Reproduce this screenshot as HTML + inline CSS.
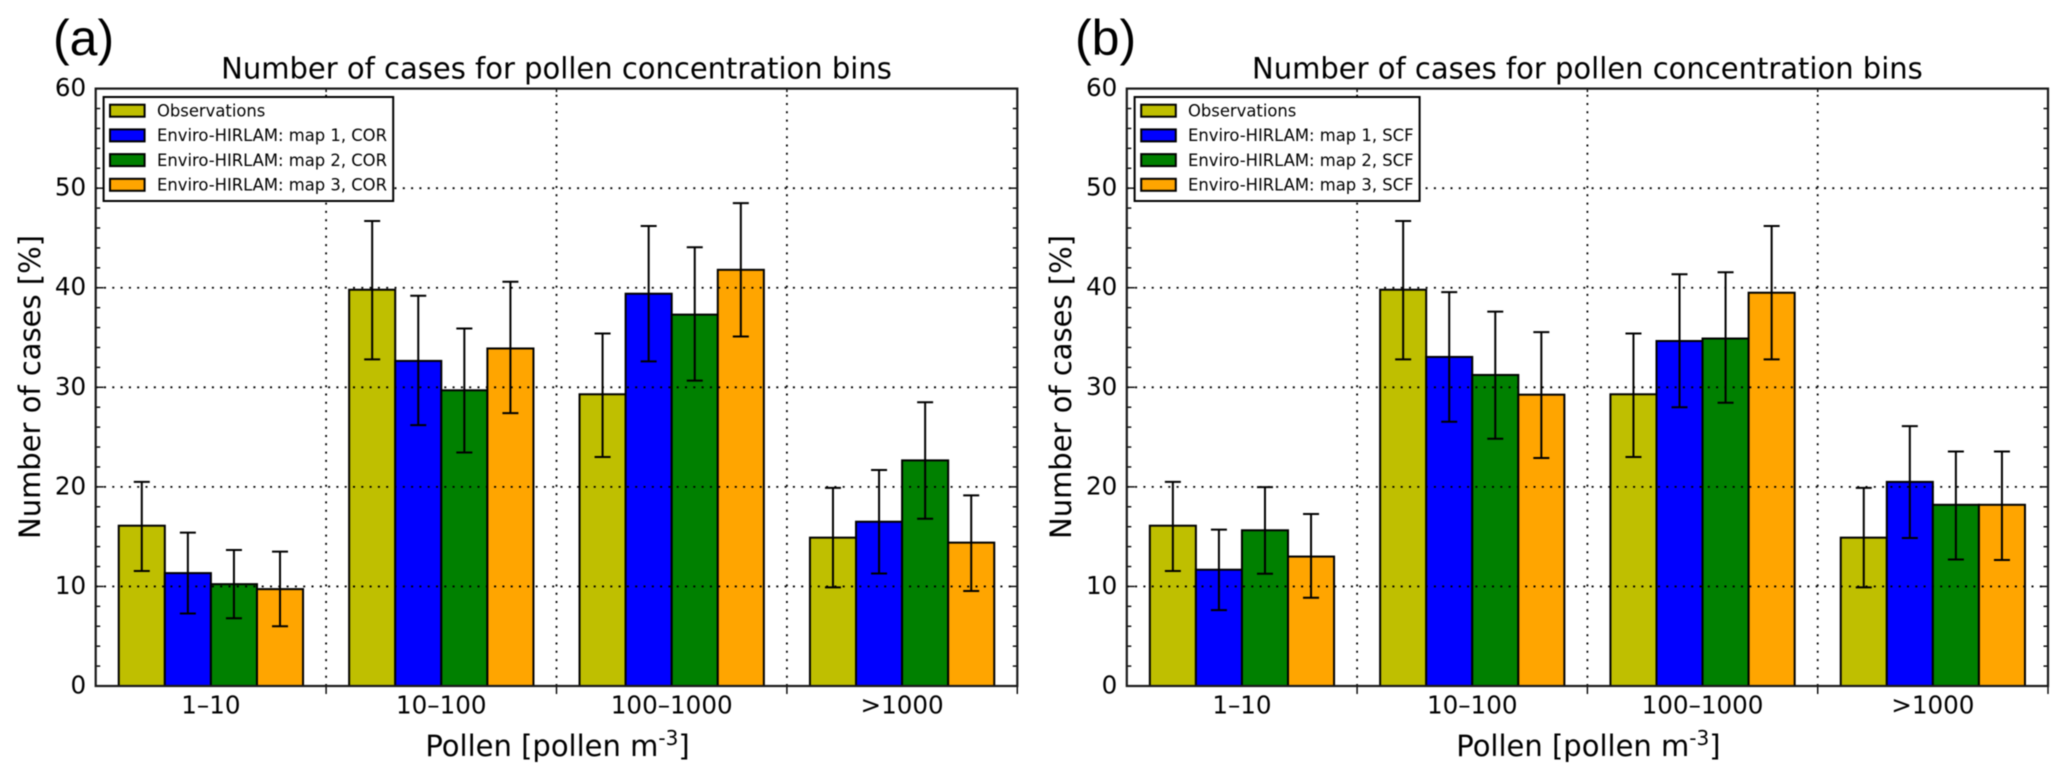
<!DOCTYPE html>
<html lang="en">
<head>
<meta charset="utf-8">
<title>Number of cases for pollen concentration bins</title>
<style>
  html, body { margin: 0; padding: 0; background: #fff; }
  svg { display: block; filter: blur(0.4px); }
  text { font-family: "DejaVu Sans", "Liberation Sans", sans-serif; fill: #000; }
  .panel-tag { font-family: "Liberation Sans", sans-serif; font-size: 50px; }
  .title, .axis-title { font-size: 29px; }
  .tick { font-size: 24.6px; }
  .legend-text { font-size: 16.4px; }
</style>
</head>
<body>
<svg id="figure" xmlns="http://www.w3.org/2000/svg" width="2067" height="780" viewBox="0 0 2067 780">
  <rect x="0" y="0" width="2067" height="780" fill="#fff"/>

  <g id="panel-a">
    <text class="panel-tag" x="53" y="55">(a)</text>
    <text class="title" x="556.5" y="78.5" text-anchor="middle">Number of cases for pollen concentration bins</text>
    <text class="axis-title" x="557.5" y="756" text-anchor="middle">Pollen [pollen m<tspan font-size="20px" dy="-11">-3</tspan><tspan dy="11">]</tspan></text>
    <text class="axis-title" transform="translate(40 387) rotate(-90)" text-anchor="middle" textLength="304">Number of cases [%]</text>
    <g id="a-plot"></g>
    <g>
      <rect x="103.6" y="97" width="289.6" height="104" fill="#fff" stroke="#000" stroke-width="2"/>
      <g>
        <rect x="110" y="104.7" width="34.6" height="12" fill="#bfbf00" stroke="#000" stroke-width="2"/>
        <text class="legend-text" x="157" y="116.5">Observations</text>
      </g>
      <g>
        <rect x="110" y="129.4" width="34.6" height="12" fill="#0000ff" stroke="#000" stroke-width="2"/>
        <text class="legend-text" x="157" y="141.2">Enviro-HIRLAM: map 1, COR</text>
      </g>
      <g>
        <rect x="110" y="154.1" width="34.6" height="12" fill="#008000" stroke="#000" stroke-width="2"/>
        <text class="legend-text" x="157" y="165.9">Enviro-HIRLAM: map 2, COR</text>
      </g>
      <g>
        <rect x="110" y="178.8" width="34.6" height="12" fill="#ffa500" stroke="#000" stroke-width="2"/>
        <text class="legend-text" x="157" y="190.6">Enviro-HIRLAM: map 3, COR</text>
      </g>
    </g>
  </g>

  <g id="panel-b">
    <text class="panel-tag" x="1075" y="55">(b)</text>
    <text class="title" x="1587.4" y="78.5" text-anchor="middle">Number of cases for pollen concentration bins</text>
    <text class="axis-title" x="1588.4" y="756" text-anchor="middle">Pollen [pollen m<tspan font-size="20px" dy="-11">-3</tspan><tspan dy="11">]</tspan></text>
    <text class="axis-title" transform="translate(1071 387) rotate(-90)" text-anchor="middle" textLength="304">Number of cases [%]</text>
    <g id="b-plot"></g>
    <g>
      <rect x="1134.6" y="97" width="285" height="104" fill="#fff" stroke="#000" stroke-width="2"/>
      <g>
        <rect x="1141.2" y="104.7" width="34.6" height="12" fill="#bfbf00" stroke="#000" stroke-width="2"/>
        <text class="legend-text" x="1188" y="116.5">Observations</text>
      </g>
      <g>
        <rect x="1141.2" y="129.4" width="34.6" height="12" fill="#0000ff" stroke="#000" stroke-width="2"/>
        <text class="legend-text" x="1188" y="141.2">Enviro-HIRLAM: map 1, SCF</text>
      </g>
      <g>
        <rect x="1141.2" y="154.1" width="34.6" height="12" fill="#008000" stroke="#000" stroke-width="2"/>
        <text class="legend-text" x="1188" y="165.9">Enviro-HIRLAM: map 2, SCF</text>
      </g>
      <g>
        <rect x="1141.2" y="178.8" width="34.6" height="12" fill="#ffa500" stroke="#000" stroke-width="2"/>
        <text class="legend-text" x="1188" y="190.6">Enviro-HIRLAM: map 3, SCF</text>
      </g>
    </g>
  </g>
</svg>

<script>
const categories = ['1–10', '10–100', '100–1000', '>1000'];
const yTickLabels = [0, 10, 20, 30, 40, 50, 60];
const yMinorTicks = [2, 4, 6, 8, 12, 14, 16, 18, 22, 24, 26, 28, 32, 34, 36, 38, 42, 44, 46, 48, 52, 54, 56, 58];
const seriesKeys = ['observations', 'map-1', 'map-2', 'map-3'];
const seriesColors = ['#bfbf00', '#0000ff', '#008000', '#ffa500'];

const observations = [16.1, 39.8, 29.3, 14.9];
const observationsLow = [11.55, 32.8, 23.0, 9.9];
const observationsHigh = [20.5, 46.7, 35.4, 19.9];

const corMap1 = [11.34, 32.65, 39.4, 16.5];
const corMap1Low = [7.28, 26.2, 32.6, 11.3];
const corMap1High = [15.4, 39.2, 46.2, 21.7];
const corMap2 = [10.23, 29.7, 37.3, 22.66];
const corMap2Low = [6.8, 23.45, 30.67, 16.8];
const corMap2High = [13.66, 35.9, 44.06, 28.5];
const corMap3 = [9.73, 33.9, 41.8, 14.4];
const corMap3Low = [6.0, 27.4, 35.1, 9.54];
const corMap3High = [13.5, 40.6, 48.5, 19.15];

const scfMap1 = [11.68, 33.05, 34.65, 20.5];
const scfMap1Low = [7.62, 26.54, 28.0, 14.86];
const scfMap1High = [15.7, 39.56, 41.35, 26.1];
const scfMap2 = [15.64, 31.24, 34.9, 18.2];
const scfMap2Low = [11.28, 24.83, 28.45, 12.7];
const scfMap2High = [19.97, 37.6, 41.55, 23.55];
const scfMap3 = [13.0, 29.26, 39.5, 18.2];
const scfMap3Low = [8.86, 22.9, 32.8, 12.65];
const scfMap3High = [17.28, 35.54, 46.2, 23.55];

const SVG_NS = 'http://www.w3.org/2000/svg';
const X_MAX = 4;
const Y_MAX = 60;
const BAR_WIDTH = 0.2;
const GROUP_PAD = 0.1;

function node(tag, attrs, parent) {
  const e = document.createElementNS(SVG_NS, tag);
  for (const k in attrs) e.setAttribute(k, attrs[k]);
  parent.appendChild(e);
  return e;
}

function drawPanel(prefix, box, values, lows, highs) {
  const root = document.getElementById(prefix + '-plot');
  const xAxis = function (v) { return box.left + (v / X_MAX) * (box.right - box.left); };
  const yAxis = function (v) { return box.bottom - (v / Y_MAX) * (box.bottom - box.top); };

  const background = node('rect', { x: box.left, y: box.top, width: box.right - box.left, height: box.bottom - box.top, fill: '#fff' }, root);
  
  

  // bars
  values.forEach(function (series, s) {
    series.forEach(function (value, g) {
      const left = xAxis(g + GROUP_PAD + s * BAR_WIDTH);
      const right = xAxis(g + GROUP_PAD + (s + 1) * BAR_WIDTH);
      const bar = node('rect', {
        x: left, y: yAxis(value), width: right - left, height: yAxis(0) - yAxis(value),
        fill: seriesColors[s], stroke: '#000', 'stroke-width': 2
      }, root);
      
      
    });
  });

  // grid
  yTickLabels.slice(1, -1).forEach(function (t) {
    const line = node('line', {
      x1: box.left, x2: box.right, y1: yAxis(t), y2: yAxis(t),
      stroke: '#000', 'stroke-width': 1.8, 'stroke-dasharray': '2 6.3'
    }, root);
    
    
  });
  [1, 2, 3].forEach(function (t) {
    const line = node('line', {
      x1: xAxis(t), x2: xAxis(t), y1: yAxis(0), y2: yAxis(Y_MAX),
      stroke: '#000', 'stroke-width': 1.8, 'stroke-dasharray': '2 6.3'
    }, root);
    
    
  });

  // error bars
  values.forEach(function (series, s) {
    series.forEach(function (value, g) {
      const cx = xAxis(g + GROUP_PAD + (s + 0.5) * BAR_WIDTH);
      const group = node('g', { stroke: '#000', 'stroke-width': 2 }, root);
      
      
      const yLow = yAxis(lows[s][g]);
      const yHigh = yAxis(highs[s][g]);
      node('line', { x1: cx, x2: cx, y1: yLow, y2: yHigh }, group);
      node('line', { x1: cx - 8, x2: cx + 8, y1: yLow, y2: yLow }, group);
      node('line', { x1: cx - 8, x2: cx + 8, y1: yHigh, y2: yHigh }, group);
    });
  });

  // y ticks on both spines
  yTickLabels.forEach(function (t) {
    const y = yAxis(t);
    const tickL = node('line', { x1: box.left, x2: box.left + 8, y1: y, y2: y, stroke: '#000', 'stroke-width': 1.4 }, root);
    
    
    const tickR = node('line', { x1: box.right - 8, x2: box.right, y1: y, y2: y, stroke: '#000', 'stroke-width': 1.4 }, root);
    
    
    const label = node('text', { x: box.left - 9.5, y: y + 7.5, 'text-anchor': 'end', class: 'tick' }, root);
    
    
    label.textContent = t;
  });
  yMinorTicks.forEach(function (t) {
    const y = yAxis(t);
    const tickL = node('line', { x1: box.left, x2: box.left + 4.5, y1: y, y2: y, stroke: '#000', 'stroke-width': 1.4 }, root);
    
    
    const tickR = node('line', { x1: box.right - 4.5, x2: box.right, y1: y, y2: y, stroke: '#000', 'stroke-width': 1.4 }, root);
    
    
  });

  // x ticks and labels
  [1, 2, 3, 4].forEach(function (t) {
    const tick = node('line', { x1: xAxis(t), x2: xAxis(t), y1: yAxis(0), y2: yAxis(0) + 8, stroke: '#000', 'stroke-width': 1.4 }, root);
    
    
    const tickTop = node('line', { x1: xAxis(t), x2: xAxis(t), y1: yAxis(Y_MAX), y2: yAxis(Y_MAX) + 3.5, stroke: '#000', 'stroke-width': 1.4 }, root);
    
    
  });
  categories.forEach(function (c, i) {
    const label = node('text', { x: xAxis(i + 0.5), y: 713.5, 'text-anchor': 'middle', class: 'tick' }, root);
    
    
    label.textContent = c;
  });

  // spines
  const frame = node('rect', {
    x: box.left, y: box.top, width: box.right - box.left, height: box.bottom - box.top,
    fill: 'none', stroke: '#1a1a1a', 'stroke-width': 2.2
  }, root);
  
  
}

drawPanel('a', { left: 95.7, right: 1017.3, top: 88.6, bottom: 686 },
  [observations, corMap1, corMap2, corMap3],
  [observationsLow, corMap1Low, corMap2Low, corMap3Low],
  [observationsHigh, corMap1High, corMap2High, corMap3High]);

drawPanel('b', { left: 1126.8, right: 2048, top: 88.6, bottom: 686 },
  [observations, scfMap1, scfMap2, scfMap3],
  [observationsLow, scfMap1Low, scfMap2Low, scfMap3Low],
  [observationsHigh, scfMap1High, scfMap2High, scfMap3High]);
</script>
</body>
</html>
